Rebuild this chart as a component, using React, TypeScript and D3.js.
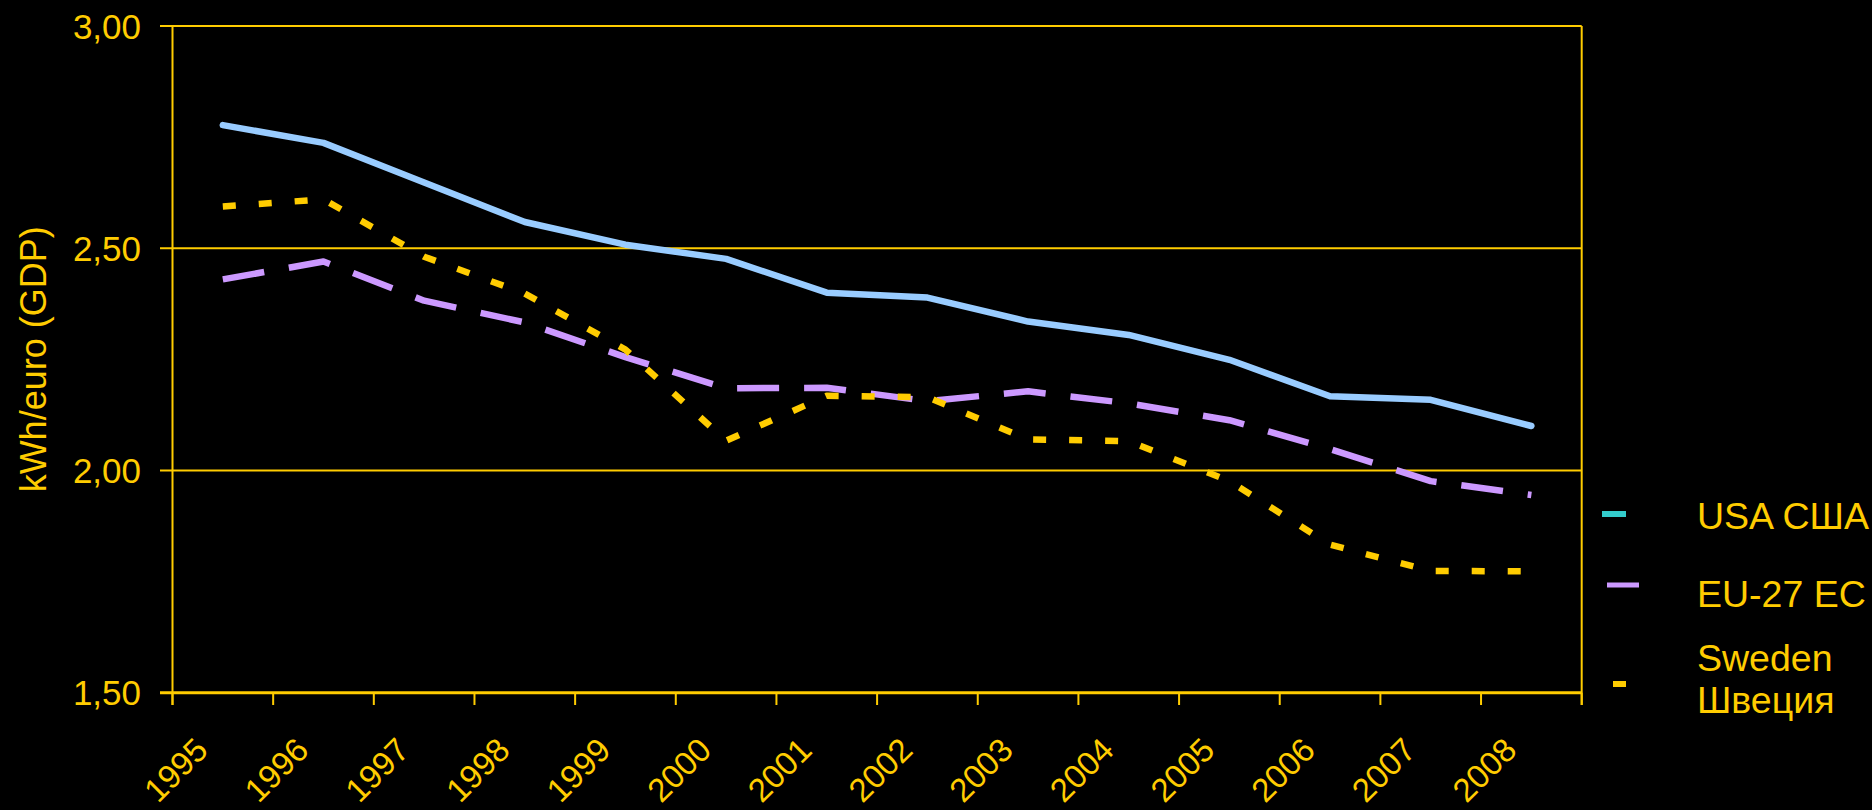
import React from "react";
import * as d3 from "d3";

const years = ["1995", "1996", "1997", "1998", "1999", "2000", "2001", "2002", "2003", "2004", "2005", "2006", "2007", "2008"];
const usa = [2.777, 2.737, 2.648, 2.559, 2.508, 2.476, 2.4, 2.389, 2.335, 2.305, 2.249, 2.167, 2.159, 2.1];
const eu27 = [2.43, 2.47, 2.382, 2.333, 2.255, 2.185, 2.186, 2.156, 2.178, 2.151, 2.113, 2.048, 1.976, 1.945];
const sweden = [2.594, 2.61, 2.481, 2.398, 2.272, 2.067, 2.168, 2.165, 2.07, 2.066, 1.976, 1.833, 1.774, 1.773];
const yTicks = [1.5, 2.0, 2.5, 3.0];

const W = 1872;
const H = 810;
const left = 172.5;
const right = 1581.7;
const top = 26;
const bottom = 692.7;
const gold = "#FFCC00";
const font = "Arial, 'Liberation Sans', sans-serif";

const x = d3.scaleBand<string>().domain(years).range([left, right]);
const y = d3.scaleLinear().domain([1.5, 3]).range([bottom, top]);
const fmt = d3.formatLocale({ decimal: ",", thousands: " ", grouping: [3], currency: ["", ""] }).format(".2f");

const line = d3
  .line<number>()
  .x((_, i) => (x(years[i]) as number) + x.bandwidth() / 2)
  .y((d) => y(d));

const series = [
  { name: "USA США", values: usa, color: "#99CCFF", dash: "none" },
  { name: "EU-27 EC", values: eu27, color: "#CC99FF", dash: "42 25" },
  { name: "Sweden Швеция", values: sweden, color: "#FFCC00", dash: "13 23" },
];

const App = () => {
  const bounds = [...years.map((yr) => x(yr) as number), right];
  return (
    <div style={{ position: "fixed", left: 0, top: 0, width: W, height: H, background: "#000" }}>
      <svg width={W} height={H} style={{ display: "block", background: "#000" }} fontFamily={font}>
        {/* gridlines + y ticks */}
        {yTicks.map((t) => (
          <g key={t}>
            <line x1={160} x2={right} y1={y(t)} y2={y(t)} stroke={gold} strokeWidth={t === 1.5 ? 3 : 2} />
            <text x={141} y={y(t) + 12.5} textAnchor="end" fill={gold} fontSize={35}>
              {fmt(t)}
            </text>
          </g>
        ))}
        {/* frame */}
        <line x1={left} x2={left} y1={top} y2={705} stroke={gold} strokeWidth={2} />
        <line x1={right} x2={right} y1={top} y2={705} stroke={gold} strokeWidth={2} />
        {bounds.map((b, i) => (
          <line key={i} x1={b} x2={b} y1={bottom} y2={705} stroke={gold} strokeWidth={2} />
        ))}
        {/* x labels */}
        {years.map((yr) => {
          const cx = (x(yr) as number) + x.bandwidth() / 2;
          return (
            <text
              key={yr}
              transform={`translate(${cx - 13},752) rotate(-45)`}
              textAnchor="end"
              fill={gold}
              fontSize={33}
            >
              {yr}
            </text>
          );
        })}
        {/* y title */}
        <text transform={`translate(46,${(top + bottom) / 2}) rotate(-90)`} textAnchor="middle" fill={gold} fontSize={36}>
          kWh/euro (GDP)
        </text>
        {/* lines */}
        {series.map((s) => (
          <path
            key={s.name}
            d={line(s.values) || ""}
            fill="none"
            stroke={s.color}
            strokeWidth={6.5}
            strokeDasharray={s.dash}
            strokeLinecap={s.dash === "none" ? "round" : "butt"}
            strokeLinejoin="round"
          />
        ))}
        {/* legend */}
        <line x1={1602} x2={1626} y1={514} y2={514} stroke="#33CCCC" strokeWidth={6} />
        <line x1={1607} x2={1639} y1={585} y2={585} stroke="#CC99FF" strokeWidth={5} />
        <line x1={1613} x2={1626} y1={684} y2={684} stroke="#FFCC00" strokeWidth={6} />
        <text x={1697} y={529} fill={gold} fontSize={37.5}>USA США</text>
        <text x={1697} y={607} fill={gold} fontSize={37.5}>EU-27 EC</text>
        <text x={1697} y={671} fill={gold} fontSize={37.5}>Sweden</text>
        <text x={1697} y={713} fill={gold} fontSize={37.5}>Швеция</text>
      </svg>
    </div>
  );
};

export default App;
